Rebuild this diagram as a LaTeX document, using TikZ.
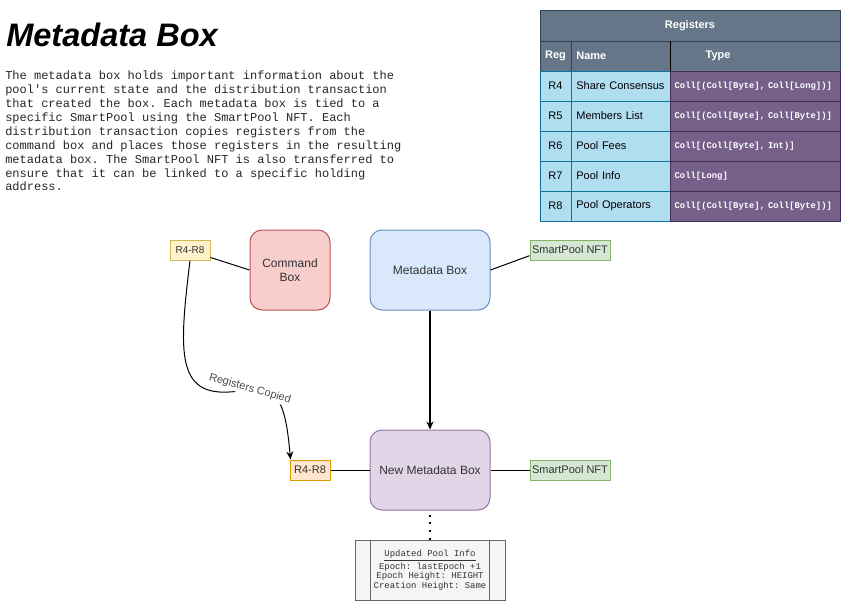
\documentclass[tikz,border=0pt]{standalone}
\usepackage{fontspec}
\setmainfont{Liberation Sans}
\setmonofont{Liberation Mono}
\usetikzlibrary{arrows.meta}

\definecolor{hdrfill}{HTML}{647687}
\definecolor{hdrline}{HTML}{314354}
\definecolor{regfill}{HTML}{B1DDF0}
\definecolor{regline}{HTML}{10739E}
\definecolor{typefill}{HTML}{76608A}
\definecolor{typeline}{HTML}{432D57}
\definecolor{cmdfill}{HTML}{F8CECC}
\definecolor{cmdline}{HTML}{B85450}
\definecolor{metafill}{HTML}{DAE8FC}
\definecolor{metaline}{HTML}{6C8EBF}
\definecolor{newmetafill}{HTML}{E1D5E7}
\definecolor{newmetaline}{HTML}{9673A6}
\definecolor{nftfill}{HTML}{D5E8D4}
\definecolor{nftline}{HTML}{82B366}
\definecolor{tagfill}{HTML}{FFF2CC}
\definecolor{tagline}{HTML}{D6B656}
\definecolor{copyfill}{HTML}{FFE6CC}
\definecolor{copyline}{HTML}{D79B00}
\definecolor{infofill}{HTML}{F5F5F5}
\definecolor{infoline}{HTML}{666666}
\definecolor{txtgray}{HTML}{333333}

\begin{document}
\begin{tikzpicture}[
  x=0.75pt, y=-0.75pt,
  box/.style={rectangle, rounded corners=9pt, draw, line width=0.75pt, minimum width=90pt, minimum height=60pt, font=\fontsize{9}{10.8}\selectfont, text=txtgray, align=center},
  tag/.style={rectangle, draw, line width=0.75pt, minimum width=30pt, minimum height=15pt, inner sep=1pt, font=\fontsize{8.25}{9.9}\selectfont, text=txtgray},
  titlecell/.style={rectangle, fill=hdrfill, draw=hdrline, text=white, font=\bfseries\fontsize{8.25}{9.9}\selectfont, minimum width=225pt, minimum height=23.25pt, inner sep=0},
  hdrcell/.style={rectangle, fill=hdrfill, draw=hdrline, text=white, font=\bfseries\fontsize{8.25}{9.9}\selectfont, minimum height=22.5pt, inner ysep=0},
  regcell/.style={rectangle, fill=regfill, draw=regline, minimum width=23.25pt, minimum height=22.5pt, inner sep=0, font=\fontsize{8.25}{9.9}\selectfont},
  namecell/.style={regcell, text width=66.25pt, inner xsep=4pt, align=left},
  typecell/.style={rectangle, fill=typefill, draw=typeline, text=white, font=\ttfamily\bfseries\fontsize{6.65}{7.8}\selectfont, text width=120.5pt, inner xsep=3.5pt, inner ysep=0, minimum height=22.5pt, align=left},
  infobox/.style={rectangle, fill=infofill, draw=infoline, line width=0.75pt, minimum width=112.5pt, minimum height=45pt, align=center, font=\ttfamily\fontsize{6.7}{7.1}\selectfont, text=txtgray},
  link/.style={line width=0.75pt},
  arrow/.style={-{Stealth[length=6pt, width=5.25pt]}, line width=0.75pt},
  edgelabel/.style={font=\fontsize{8.25}{9.9}\selectfont, text=black!70, fill=white, inner sep=1pt}
]
\useasboundingbox (0,0) rectangle (841,601);

% Title and description
\node[anchor=base west, inner sep=0, font=\bfseries\itshape\fontsize{24.4}{28}\selectfont] (title) at (6,46) {Metadata Box};
\node[anchor=north west, inner sep=0, align=left, text=black!85, font=\ttfamily\fontsize{9}{10.4}\selectfont] (intro) at (5,71)
  {The metadata box holds important information about the\\
   pool's current state and the distribution transaction\\
   that created the box. Each metadata box is tied to a\\
   specific SmartPool using the SmartPool NFT. Each\\
   distribution transaction copies registers from the\\
   command box and places those registers in the resulting\\
   metadata box. The SmartPool NFT is also transferred to\\
   ensure that it can be linked to a specific holding\\
   address.};

% Register table
\node[titlecell] (regtitle) at (690,25.5) {Registers};
\node[hdrcell, minimum width=23.25pt, inner xsep=0] (hreg) at (555.5,56) {Reg};
\node[hdrcell, text width=66.25pt, inner xsep=4pt, align=left] (hname) at (620.5,56) {Name};
\node[hdrcell, text width=118pt, inner xsep=4.75pt, align=left] (htype) at (755,56) {\hspace*{22pt}Type};
\draw[black, line width=0.75pt] (hname.north east) -- (hname.south east);

\node[regcell] (reg4) at (555.5,86) {R4};
\node[namecell] (name4) at (620.5,86) {Share Consensus};
\node[typecell] (type4) at (755,86) {Coll[(Coll[Byte], Coll[Long])]};
\node[regcell] (reg5) at (555.5,116) {R5};
\node[namecell] (name5) at (620.5,116) {Members List};
\node[typecell] (type5) at (755,116) {Coll[(Coll[Byte], Coll[Byte])]};
\node[regcell] (reg6) at (555.5,146) {R6};
\node[namecell] (name6) at (620.5,146) {Pool Fees};
\node[typecell] (type6) at (755,146) {Coll[(Coll[Byte], Int)]};
\node[regcell] (reg7) at (555.5,176) {R7};
\node[namecell] (name7) at (620.5,176) {Pool Info};
\node[typecell] (type7) at (755,176) {Coll[Long]};
\node[regcell] (reg8) at (555.5,206) {R8};
\node[namecell] (name8) at (620.5,206) {Pool Operators};
\node[typecell] (type8) at (755,206) {Coll[(Coll[Byte], Coll[Byte])]};

% Boxes
\node[tag, fill=tagfill, draw=tagline, font=\fontsize{7.5}{9}\selectfont] (r4top) at (190,250) {R4-R8};
\node[box, fill=cmdfill, draw=cmdline, minimum width=60pt] (cmd) at (290,270) {Command\\Box};
\node[box, fill=metafill, draw=metaline] (meta) at (430,270) {Metadata Box};
\node[tag, fill=nftfill, draw=nftline, minimum width=60pt] (nfttop) at (570,250) {SmartPool NFT};

\node[tag, fill=copyfill, draw=copyline] (r4bot) at (310,470) {R4-R8};
\node[box, fill=newmetafill, draw=newmetaline] (newmeta) at (430,470) {New Metadata Box};
\node[tag, fill=nftfill, draw=nftline, minimum width=60pt] (nftbot) at (570,470) {SmartPool NFT};

\node[infobox] (info) at (430,570) {\underline{Updated Pool Info}\\[0.6pt]Epoch: lastEpoch +1\\Epoch Height: HEIGHT\\Creation Height: Same};
\draw[infoline, line width=0.75pt] ([xshift=12pt]info.north west) -- ([xshift=12pt]info.south west);
\draw[infoline, line width=0.75pt] ([xshift=-12pt]info.north east) -- ([xshift=-12pt]info.south east);

% Connectors
\draw[link] (r4top.-20) -- (cmd.west);
\draw[link] (meta.east) -- (nfttop.188);
\draw[arrow, line width=1.1pt] (meta.south) -- (newmeta.north);
\draw[link] (r4bot.east) -- (newmeta.west);
\draw[link] (newmeta.east) -- (nftbot.west);
\draw[arrow] (r4top.south) .. controls (178,360) and (175,405) .. (250,389)
  node[edgelabel, rotate=-16] {Registers Copied}
  .. controls (282,380) and (287,420) .. ([xshift=0.75pt]r4bot.north west);
\draw[line width=1.5pt, dash pattern=on 1.5pt off 4.3pt, dash phase=2.8pt] (newmeta.south) -- (info.north);

\end{tikzpicture}
\end{document}
